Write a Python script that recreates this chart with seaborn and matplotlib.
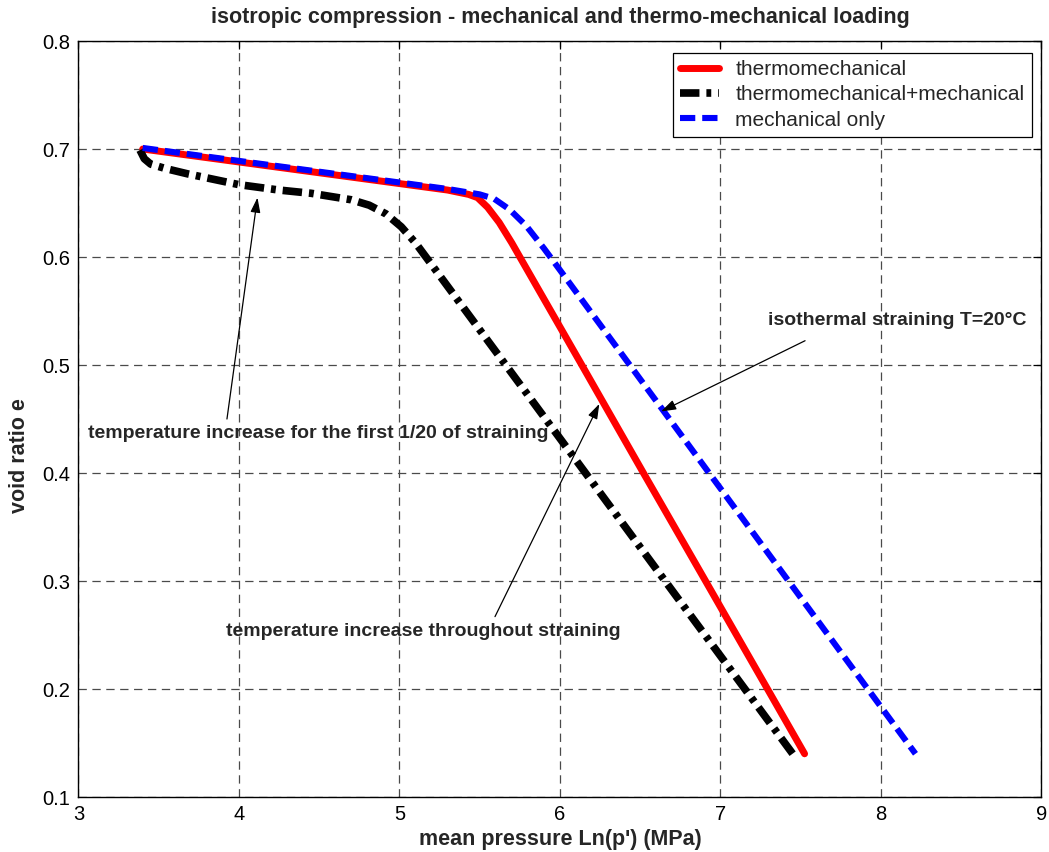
import matplotlib
matplotlib.use("Agg")
import matplotlib.pyplot as plt
import pandas as pd
import seaborn as sns

# Mean pressure Ln(p') [MPa] and void ratio e for each loading path
thermo_p = [3.40, 4.00, 4.50, 5.00, 5.30, 5.43, 5.486, 5.549, 5.621, 5.70, 5.75, 6.136, 6.52, 6.907, 7.293, 7.524]
thermo_e = [0.700, 0.688, 0.678, 0.668, 0.662, 0.658, 0.655, 0.646, 0.632, 0.613, 0.600, 0.500, 0.400, 0.300, 0.200, 0.140]

combined_p = [3.383, 3.41, 3.45, 3.54, 3.68, 4.00, 4.25, 4.45, 4.70, 4.811, 4.915, 5.011, 5.10, 5.165,
              5.662, 6.159, 6.655, 7.152, 7.45]
combined_e = [0.699, 0.691, 0.686, 0.682, 0.677, 0.667, 0.662, 0.659, 0.653, 0.648, 0.640, 0.628, 0.613, 0.600,
              0.500, 0.400, 0.300, 0.200, 0.140]

mech_p = [3.40, 4.00, 4.50, 5.00, 5.30, 5.50, 5.589, 5.686, 5.789, 5.90, 5.94, 6.435, 6.929, 7.424, 7.918, 8.215]
mech_e = [0.701, 0.689, 0.679, 0.669, 0.663, 0.658, 0.654, 0.644, 0.629, 0.608, 0.600, 0.500, 0.400, 0.300, 0.200, 0.140]

series_names = ["thermomechanical", "thermomechanical+mechanical", "mechanical only"]

x_ticks = [3, 4, 5, 6, 7, 8, 9]
y_ticks = [0.1, 0.2, 0.3, 0.4, 0.5, 0.6, 0.7, 0.8]

sns.set_style("white")
plt.rcParams["font.family"] = ["Liberation Sans", "DejaVu Sans"]
plt.rcParams["lines.scale_dashes"] = False

fig = plt.figure(figsize=(10.49, 8.52), dpi=100)
ax = fig.add_axes([0.07483, 0.06455, 0.918, 0.8873])

styles = [
    dict(p=thermo_p, e=thermo_e, color="#ff0000", lw=5.0, dashes=None),
    dict(p=combined_p, e=combined_e, color="#000000", lw=5.5, dashes=(14, 5, 3.5, 5)),
    dict(p=mech_p, e=mech_e, color="#0000ff", lw=4.4, dashes=(11, 5)),
]

handles = []
for name, st in zip(series_names, styles):
    df = pd.DataFrame({"p": st["p"], "e": st["e"]})
    sns.lineplot(data=df, x="p", y="e", sort=False, estimator=None, ax=ax,
                 color=st["color"], linewidth=st["lw"], legend=False)
    line = ax.lines[-1]
    line.set_solid_joinstyle("round")
    line.set_dash_joinstyle("round")
    line.set_dash_capstyle("butt")
    if st["dashes"] is not None:
        line.set_dashes(st["dashes"])
    line.set_label(name)
    handles.append(line)

ax.set_xlim(3, 9)
ax.set_ylim(0.1, 0.8)
ax.set_xticks(x_ticks)
ax.set_yticks(y_ticks)
ax.set_xticklabels([str(v) for v in x_ticks])
ax.set_yticklabels([f"{v:.1f}" for v in y_ticks])

ax.grid(True, color="#4a4a4a", linewidth=0.9, linestyle=(0, (6, 4)))
ax.set_axisbelow(True)
for sp in ax.spines.values():
    sp.set_visible(True)
    sp.set_color("black")
    sp.set_linewidth(1.0)
ax.tick_params(direction="in", top=True, right=True, length=6, width=0.9,
               labelsize=14.5, pad=6, colors="black")

ax.set_xlabel("mean pressure Ln(p') (MPa)", fontsize=15.5, fontweight="bold", labelpad=3)
ax.set_ylabel("void ratio e", fontsize=15.5, fontweight="bold")
ax.yaxis.set_label_coords(-0.050, 0.451)
fig.text(0.5339, 1 - 17 / 852, "isotropic compression - mechanical and thermo-mechanical loading",
         ha="center", va="center", fontsize=15.5, fontweight="bold")

leg = ax.legend(handles=handles, loc="upper right", bbox_to_anchor=(0.990, 0.9845),
                fontsize=15, frameon=True, fancybox=False, framealpha=1,
                edgecolor="black", handlelength=1.85, handletextpad=0.8,
                labelspacing=0.3, borderpad=0.35, borderaxespad=0)
leg.get_frame().set_linewidth(0.9)

arrow_kw = dict(arrowstyle="-|>,head_length=0.9,head_width=0.3", color="black",
                lw=0.9, shrinkA=0, shrinkB=0)
ann_font = dict(fontsize=14, fontweight="bold", ha="left", va="center")

ax.annotate("", xy=(4.115, 0.655), xytext=(3.925, 0.450), arrowprops=arrow_kw)
ax.text(3.06, 0.437, "temperature increase for the first 1/20 of straining", **ann_font)

ax.annotate("", xy=(6.63, 0.457), xytext=(7.527, 0.5225), arrowprops=arrow_kw)
ax.text(7.296, 0.541, "isothermal straining T=20°C", **ann_font)

ax.annotate("", xy=(6.245, 0.464), xytext=(5.595, 0.267), arrowprops=arrow_kw)
ax.text(3.919, 0.2528, "temperature increase throughout straining", **ann_font)

fig.savefig("out.png", dpi=100)
